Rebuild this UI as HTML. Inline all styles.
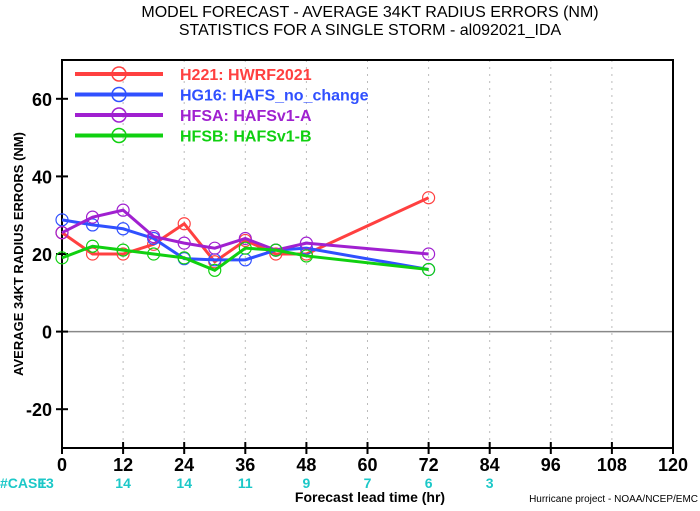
<!DOCTYPE html>
<html><head><meta charset="utf-8"><style>
body{margin:0;background:#fff;font-family:"Liberation Sans",sans-serif}
svg text{font-family:"Liberation Sans",sans-serif}
</style></head><body>
<svg width="700" height="506" viewBox="0 0 700 506">
<g id="content"></g>
</svg>
<script>
const hours=[0,6,12,18,24,30,36,42,48,72];
const h221=[25.5,20,20,22.5,27.8,18,23.5,20,20,34.5];
const hg16=[28.8,27.5,26.5,24,18.8,18.5,18.5,21,21.5,16];
const hfsa=[25.5,29.5,31.3,24.5,22.8,21.5,24,21,22.8,20];
const hfsb=[19,22,21,20,19,15.8,21.5,21,19.5,16];
const xTicks=[0,12,24,36,48,60,72,84,96,108,120];
const yTicks=[-20,0,20,40,60];
const caseHours=[0,12,24,36,48,60,72,84];
const caseCounts=[13,14,14,11,9,7,6,3];
const L=62,R=673,T=60,B=448,X0=0,X1=120,Y0=-30,Y1=70;
const sx=v=>L+(v-X0)/(X1-X0)*(R-L);
const sy=v=>B-(v-Y0)/(Y1-Y0)*(B-T);
const NS="http://www.w3.org/2000/svg";
const g=document.getElementById('content');
function el(t,a,txt){const e=document.createElementNS(NS,t);for(const k in a)e.setAttribute(k,a[k]);if(txt!==undefined)e.textContent=txt;g.appendChild(e);return e;}
let e=el('text',{x:370,y:17,'text-anchor':'middle','font-size':16,fill:'#000'},'MODEL FORECAST - AVERAGE 34KT RADIUS ERRORS (NM)');

e=el('text',{x:370,y:35,'text-anchor':'middle','font-size':16,fill:'#000'},'STATISTICS FOR A SINGLE STORM - al092021_IDA');

xTicks.forEach(t=>{if(t>0&&t<120){e=el('line',{x1:sx(t),x2:sx(t),y1:T,y2:B,stroke:'#bbb','stroke-dasharray':'2,5'});
}});
e=el('line',{x1:L,x2:R,y1:sy(0),y2:sy(0),stroke:'#888','stroke-width':1.5});

e=el('rect',{x:L,y:T,width:R-L,height:B-T,fill:'none',stroke:'#000','stroke-width':2});

yTicks.forEach(t=>{e=el('line',{x1:L-6,x2:L+6,y1:sy(t),y2:sy(t),stroke:'#000','stroke-width':2});

e=el('text',{x:L-10,y:sy(t)+7,'text-anchor':'end','font-size':18,'font-weight':'bold'},t);
});
xTicks.forEach(t=>{e=el('line',{x1:sx(t),x2:sx(t),y1:B-6,y2:B+6,stroke:'#000','stroke-width':2});

e=el('text',{x:sx(t),y:B+23,'text-anchor':'middle','font-size':18,'font-weight':'bold'},t);
});
e=el('text',{x:0,y:488,'font-size':14,'font-weight':'bold',fill:'#1cc8c8'},'#CASE');

caseHours.forEach((h,i)=>{e=el('text',{x:sx(h)+(h===0?-16:0),y:488,'text-anchor':'middle','font-size':14,'font-weight':'bold',fill:'#1cc8c8'},caseCounts[i]);
});
e=el('text',{x:370,y:502,'text-anchor':'middle','font-size':14,'font-weight':'bold'},'Forecast lead time (hr)');

e=el('text',{x:698,y:502,'text-anchor':'end','font-size':10},'Hurricane project - NOAA/NCEP/EMC');

e=el('text',{x:23,y:254,'text-anchor':'middle','font-size':13,'font-weight':'bold',transform:'rotate(-90 23 254)'},'AVERAGE 34KT RADIUS ERRORS (NM)');

const series=[['h221',h221,'#ff4040','H221: HWRF2021'],['hg16',hg16,'#3050ff','HG16: HAFS_no_change'],['hfsa',hfsa,'#a020d0','HFSA: HAFSv1-A'],['hfsb',hfsb,'#10d010','HFSB: HAFSv1-B']];
series.forEach(([id,vals,c,lab],k)=>{
 e=el('polyline',{points:vals.map((v,i)=>sx(hours[i])+','+sy(v)).join(' '),fill:'none',stroke:c,'stroke-width':3});
 
 vals.forEach((v,i)=>{e=el('circle',{cx:sx(hours[i]),cy:sy(v),r:6,fill:'none',stroke:c,'stroke-width':1.2});
 });
 const ly=74+k*20.5;
 e=el('line',{x1:75,x2:163,y1:ly,y2:ly,stroke:c,'stroke-width':4});
 
 e=el('circle',{cx:119,cy:ly,r:7,fill:'none',stroke:c,'stroke-width':1.5});
 
 e=el('text',{x:180,y:ly+6,'font-size':16,'font-weight':'bold',fill:c},lab);
 
});
</script>
</body></html>
